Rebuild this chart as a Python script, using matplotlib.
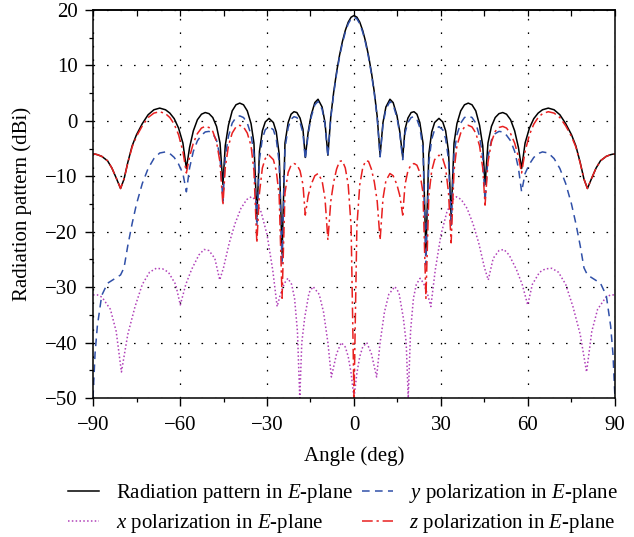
import numpy as np
import matplotlib
matplotlib.use('Agg')
import matplotlib.pyplot as plt
from matplotlib.ticker import MultipleLocator

plt.rcParams['font.family'] = ['Liberation Serif', 'DejaVu Serif']
plt.rcParams['mathtext.fontset'] = 'custom'
plt.rcParams['mathtext.rm'] = 'Liberation Serif'
plt.rcParams['mathtext.it'] = 'Liberation Serif:italic'

# values for 0..90 deg (pattern is symmetric)
ang = [0, 1, 2, 3, 4, 5, 6, 7, 8, 9,
       10, 11, 12.4, 13.5, 14.8, 15.8, 16.8,
       17.6, 18.6, 19.7, 20.7, 21.7, 22.7, 23.8, 24.8,
       25.8, 26.8, 27.8, 29.3, 30.6, 31.6, 32.6, 33.5,
       34.5, 35.5, 36.8, 38.1, 39.4, 40.7, 42, 43.3, 44.4, 45.2,
       46.2, 47.4, 48.7, 50, 51.3, 52.6, 54, 55.4, 56.7, 57.8,
       59, 60.5, 62, 63.5, 65, 67, 69, 71, 73, 75, 76.5, 78, 79.3, 80.5,
       82, 83.5, 85, 87, 88.5, 89.3, 90]

total_e = [19.0, 18.7, 17.8, 16.3, 14.3, 11.8, 8.8, 5.2, 0.8, -6.2,
           -0.3, 2.5, 3.9, 3.3, 1.0, -2.0, -6.6,
           -1.5, 0.5, 1.5, 1.65, 1.2, -0.3, -4.0, -24.0,
           -6.0, -2.0, -0.3, 0.45, -0.2, -1.8, -5.5, -17.3,
           -4.0, -0.5, 1.8, 2.9, 3.2, 2.9, 1.8, -0.8, -4.5, -11.5,
           -4.0, -1.0, 0.6, 1.3, 1.5, 1.2, 0.2, -1.8, -4.8, -8.6,
           -4.0, -1.3, 0.4, 1.4, 2.0, 2.3, 2.0, 1.1, -0.5, -2.5, -4.5, -7.5,
           -10.5, -12.2, -10.3, -8.5, -7.2, -6.4, -6.1, -6.0, -6.0]

y_pol = [18.7, 18.4, 17.5, 16.0, 14.0, 11.5, 8.5, 4.9, 0.5, -6.5,
         -0.6, 2.1, 3.5, 2.9, 0.6, -2.4, -7.0,
         -2.2, -0.3, 0.6, 0.75, 0.3, -1.2, -5.0, -26.0,
         -7.5, -3.3, -1.6, -1.05, -1.6, -3.2, -7.0, -19.0,
         -6.0, -2.5, -0.4, 0.6, 0.9, 0.6, -0.4, -2.8, -6.5, -14.5,
         -6.5, -3.5, -2.3, -1.9, -2.0, -2.6, -3.6, -5.5, -8.5, -12.8,
         -9.5, -7.8, -6.6, -5.9, -5.6, -5.8, -6.8, -8.6, -11.3, -15.0, -18.5,
         -22.5, -26.5, -27.8, -28.3, -28.8, -29.3, -31.5, -37.0, -42.0, -50.0]

z_pol = [-50.0, -19.0, -11.5, -8.5, -7.2, -7.3, -8.7, -11.0, -14.5, -21.5,
         -14.0, -10.8, -9.5, -9.9, -11.5, -13.5, -17.0,
         -11.5, -9.0, -7.9, -7.7, -8.0, -9.3, -13.0, -32.0,
         -13.5, -9.0, -7.0, -6.2, -6.8, -8.5, -13.0, -22.0,
         -9.0, -4.5, -2.2, -1.1, -0.8, -1.1, -2.2, -4.5, -8.5, -15.2,
         -7.5, -3.8, -1.9, -1.2, -1.0, -1.3, -2.3, -4.0, -6.5, -9.4,
         -5.5, -2.5, -0.6, 0.6, 1.3, 1.65, 1.4, 0.6, -0.9, -2.8, -4.7, -7.6,
         -10.5, -12.2, -10.3, -8.5, -7.2, -6.4, -6.1, -6.0, -6.0]

ang_x = [0, 1, 2, 3, 4.4, 6, 7.8, 9, 10.5, 12, 14.1, 15.5, 17, 18, 18.7, 19.5,
         20.5, 21.5, 22.8, 24, 25.5, 26.5, 28, 30, 32, 34, 35.4, 37, 39, 41,
         43, 45, 46.3, 48, 50, 51.7, 53.5, 56, 58, 59.9, 61.5, 64, 66, 68.2,
         70.5, 73, 75.5, 78, 80.2, 82, 84, 86.9, 88.5, 90]

x_pol = [-50.0, -45.5, -42.5, -40.8, -40.0, -42.0, -46.2, -40.0, -34.5, -31.3,
         -29.9, -31.0, -35.5, -40.0, -50.0, -38.0, -32.0, -29.5, -28.4, -29.3,
         -31.5, -33.5, -27.0, -20.5, -16.5, -14.2, -13.7, -14.2, -15.8, -18.5,
         -22.0, -26.5, -28.7, -24.8, -23.4, -23.2, -24.2, -26.8, -29.5, -33.2,
         -29.5, -27.3, -26.7, -26.6, -27.3, -29.5, -33.5, -38.5, -45.3, -38.0,
         -34.0, -31.8, -31.4, -31.4]


def mirror(a, v):
    a = np.asarray(a, float)
    v = np.asarray(v, float)
    return np.concatenate([-a[::-1], a[1:]]), np.concatenate([v[::-1], v[1:]])


fig = plt.figure(figsize=(6.34, 5.37), dpi=100)
ax = fig.add_axes([0.1467, 0.2588, 0.8233, 0.7226])

a, v = mirror(ang, total_e)
l1, = ax.plot(a, v, color='black', lw=1.1, label=r'Radiation pattern in $E$-plane')
a, v = mirror(ang_x, x_pol)
l2, = ax.plot(a, v, color='#b040b8', lw=1.1, ls=(0, (1, 1.5)),
              label=r'$x$ polarization in $E$-plane')
a, v = mirror(ang, y_pol)
l3, = ax.plot(a, v, color='#3050a8', lw=1.1, ls=(0, (5, 3.5)),
              label=r'$y$ polarization in $E$-plane')
a, v = mirror(ang, z_pol)
l4, = ax.plot(a, v, color='#e82020', lw=1.1, ls=(0, (7, 2.5, 1.5, 2.5)),
              label=r'$z$ polarization in $E$-plane')

ax.set_xlim(-90, 90)
ax.set_ylim(-50, 20)
ax.xaxis.set_major_locator(MultipleLocator(30))
ax.xaxis.set_minor_locator(MultipleLocator(15))
ax.yaxis.set_major_locator(MultipleLocator(10))
ax.yaxis.set_minor_locator(MultipleLocator(5))
ax.tick_params(which='both', direction='out', labelsize=15)
ax.tick_params(axis='x', pad=7)
ax.tick_params(axis='y', pad=5)
ax.tick_params(which='major', length=6, width=1)
ax.tick_params(which='minor', length=3, width=0.9)
ax.grid(True, which='major', color='black', ls=(0, (1.3, 9.5)), lw=0.9)
for s in ax.spines.values():
    s.set_linewidth(1.1)

# top ticks point inward, right side has none
top = ax.secondary_xaxis('top')
top.xaxis.set_major_locator(MultipleLocator(15))
top.tick_params(direction='in', length=4, width=0.9, labeltop=False)
top.spines['top'].set_linewidth(1.1)

ax.set_xlabel('Angle (deg)', fontsize=15)
ax.set_ylabel('Radiation pattern (dBi)', fontsize=15)
ax.xaxis.set_label_coords(0.5, -0.125)
ax.yaxis.set_label_coords(-0.117, 0.5)

fig.legend(handles=[l1, l2, l3, l4], ncol=2, loc='upper left',
           bbox_to_anchor=(68 / 634, 0.1015), frameon=False, fontsize=15,
           handlelength=1.5, handletextpad=0.8, columnspacing=0.4,
           labelspacing=0.32, borderaxespad=0, borderpad=0)

fig.savefig('out.png', dpi=100)
